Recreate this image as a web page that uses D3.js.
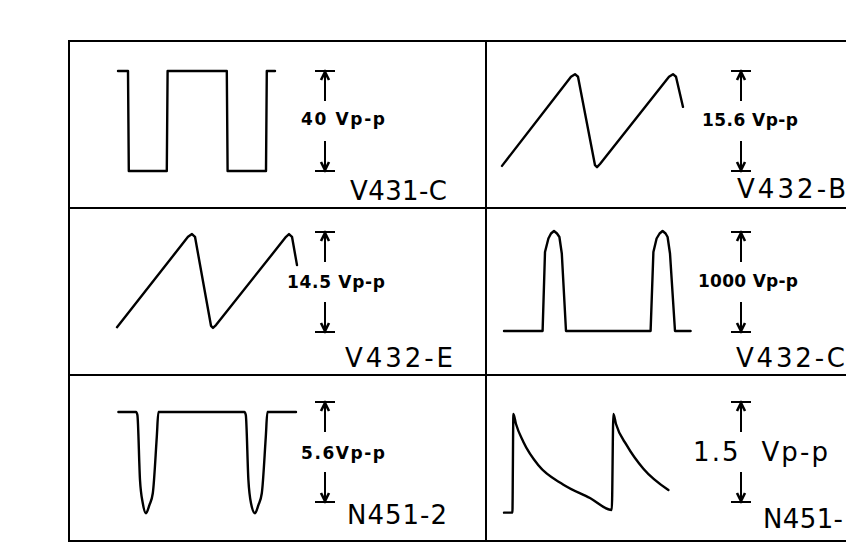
<!DOCTYPE html>
<html>
<head>
<meta charset="utf-8">
<script src="https://cdn.jsdelivr.net/npm/d3@7"></script>
<style>
  html, body { margin: 0; padding: 0; background: #fff; }
  svg { display: block; }
</style>
</head>
<body>
<svg id="chart" width="846" height="555"></svg>
<script>
// panel names and peak-to-peak amplitudes
// (the last name runs off the right edge of the scan, only "N451-" shows)
const panelNames = ["V431-C", "V432-B", "V432-E", "V432-C", "N451-2", "N451-"];
const ampLabels = ["40 Vp-p", "15.6 Vp-p", "14.5 Vp-p", "1000 Vp-p", "5.6Vp-p", "1.5  Vp-p"];
const ampValues = [40, 15.6, 14.5, 1000, 5.6, 1.5];

// waveforms as [time, volts], time 0..100 across the panel
const waveV431C = [[9, 40], [14, 40], [14.4, 0], [33.4, 0], [33.8, 40], [63.4, 40], [63.8, 0], [83, 0], [83.4, 40], [87.5, 40]];
const waveV432B = [[1, 0.8], [35.5, 14.7], [37.5, 15.1], [39, 14.7], [47.5, 0.9], [48.5, 0.6], [50, 1.1], [84.5, 14.7], [86.5, 15.1], [88, 14.7], [91.5, 10]];
const waveV432E = [[8.5, 0.7], [44, 13.8], [46, 14.2], [47.5, 13.8], [55.5, 0.9], [56.5, 0.6], [58, 1.0], [93, 13.8], [94.5, 14.2], [96, 13.8], [98.5, 9.7]];
const waveV432C = [[2, 10], [21.3, 10], [22.5, 800], [24.2, 935], [25.5, 985], [27, 1010], [28.5, 985], [29.7, 950], [30.9, 785], [33, 10], [75.3, 10], [76.7, 800], [78.3, 935], [79.8, 985], [81.3, 1010], [82.8, 985], [83.8, 950], [85, 785], [87.5, 10], [95.3, 10]];
const waveN4512 = [[9.2, 5.04], [18, 5.04], [18.7, 4.87], [20, 1.23], [21.4, -0.07], [23, -0.63], [24.7, -0.17], [26.4, 0.49], [28.4, 3.66], [29.2, 5.04], [72.2, 5.04], [72.9, 4.87], [74.2, 1.23], [75.5, -0.07], [77.5, -0.63], [79.2, -0.17], [80.9, 0.49], [82.9, 3.66], [83.7, 5.04], [98, 5.04]];
const waveN4511 = [[2, -0.16], [6.2, -0.16], [6.7, 1.32], [8, 1.17], [11.7, 0.9], [19.2, 0.55], [31.7, 0.26], [45, 0.06], [55.9, -0.12], [56.7, 1.32], [58, 1.17], [63.4, 0.85], [71.7, 0.5], [84.2, 0.18]];
const waves = [waveV431C, waveV432B, waveV432E, waveV432C, waveN4512, waveN4511];
// only the last two traces are drawn smooth, the rest are straight strokes
const smooth = [false, false, false, false, true, true];

const svg = d3.select("#chart");

// grid of boxes
const frameLeft = 69, frameRight = 910, colSplit = 486;
const rowLines = [41, 208, 375, 541];
// per row: where the amplitude bars sit
const barTop = [71, 232, 402];
const barBottom = [171, 332, 502];
// per column: time range and arrow position
const colRange = [[100, 300], [500, 700]];
const arrowX = [325, 741];

// label placement per panel: x, baseline, width
const ampPos = [[301, 125, 84], [702, 126, 96], [287, 288, 98], [698, 287, 100], [301, 459, 84], [693, 461, 135]];
const namePos = [[350, 200, 97], [737, 198, 109], [345, 367, 108], [736, 367, 109], [347, 524, 100], [763, 528, 80]];

const frame = svg.append("g")
  .attr("stroke", "#000")
  .attr("stroke-width", 2)
  .attr("fill", "none");

rowLines.forEach((y) => {
  frame.append("line").attr("x1", frameLeft - 1).attr("x2", frameRight).attr("y1", y).attr("y2", y);
});
[frameLeft, colSplit, frameRight].forEach((x) => {
  frame.append("line").attr("x1", x).attr("x2", x).attr("y1", rowLines[0]).attr("y2", rowLines[3] + 1);
});

waves.forEach((wave, i) => {
  const row = Math.floor(i / 2);
  const col = i % 2;

  const x = d3.scaleLinear().domain([0, 100]).range(colRange[col]);
  const y = d3.scaleLinear().domain([0, ampValues[i]]).range([barBottom[row], barTop[row]]);

  const line = d3.line()
    .x((d) => x(d[0]))
    .y((d) => y(d[1]))
    .curve(smooth[i] ? d3.curveMonotoneX : d3.curveLinear);

  const g = svg.append("g");

  g.append("path")
    .datum(wave)
    .attr("fill", "none")
    .attr("stroke", "#000")
    .attr("stroke-width", 2.4)
    .attr("stroke-linejoin", "round")
    .attr("stroke-linecap", "round")
    .attr("d", line);

  // amplitude marker: bars at 0 and Vpp, arrows pointing at them
  const ax = arrowX[col];
  const yHi = y(ampValues[i]);
  const yLo = y(0);
  const marker = g.append("g")
    .attr("stroke", "#000")
    .attr("stroke-width", 2)
    .attr("fill", "none");
  marker.append("line").attr("x1", ax - 10).attr("x2", ax + 10).attr("y1", yHi).attr("y2", yHi);
  marker.append("line").attr("x1", ax - 10).attr("x2", ax + 10).attr("y1", yLo).attr("y2", yLo);
  marker.append("line").attr("x1", ax).attr("x2", ax).attr("y1", yHi).attr("y2", yHi + 30);
  marker.append("line").attr("x1", ax).attr("x2", ax).attr("y1", yLo - 30).attr("y2", yLo);
  marker.append("path")
    .attr("stroke-width", 2.6)
    .attr("d", `M${ax - 4},${yHi + 9}L${ax},${yHi + 1}L${ax + 4},${yHi + 9}`);
  marker.append("path")
    .attr("stroke-width", 2.6)
    .attr("d", `M${ax - 4},${yLo - 9}L${ax},${yLo - 1}L${ax + 4},${yLo - 9}`);

  const big = i === 5;
  g.append("text")
    .attr("x", ampPos[i][0])
    .attr("y", ampPos[i][1])
    .attr("textLength", ampPos[i][2])
    .attr("lengthAdjust", "spacing")
    .attr("font-family", "DejaVu Sans")
    .attr("font-size", big ? 26 : 17)
    .attr("font-weight", big ? "normal" : "bold")
    .attr("fill", "#000")
    .attr("xml:space", "preserve")
    .text(ampLabels[i]);

  g.append("text")
    .attr("x", namePos[i][0])
    .attr("y", namePos[i][1])
    .attr("textLength", namePos[i][2])
    .attr("lengthAdjust", "spacing")
    .attr("font-family", "DejaVu Sans")
    .attr("font-size", 26)
    .attr("fill", "#000")
    .text(panelNames[i]);
});
</script>
</body>
</html>
